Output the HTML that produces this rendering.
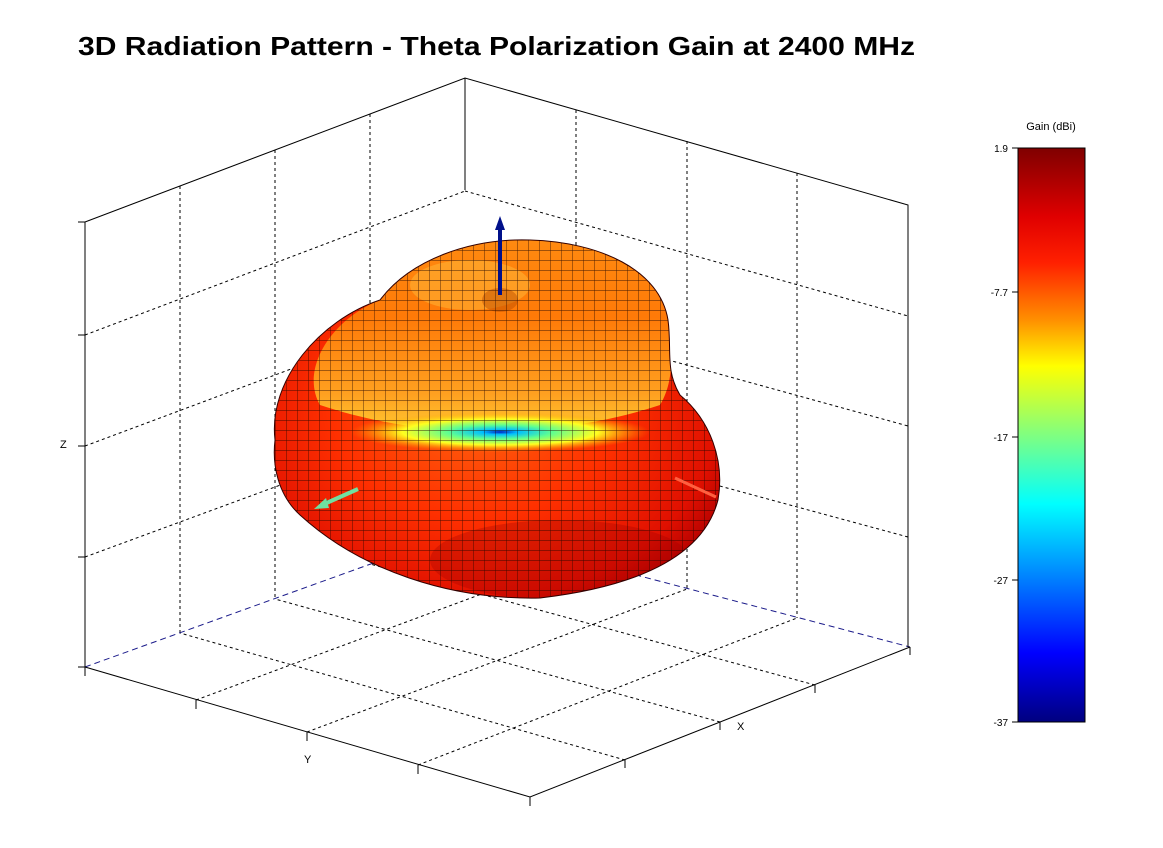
<!DOCTYPE html>
<html><head><meta charset="utf-8"><style>
html,body{margin:0;padding:0;background:#fff;}
svg{display:block;}
text{font-family:"Liberation Sans",sans-serif;}
</style></head><body>
<svg width="1163" height="848" viewBox="0 0 1163 848" xmlns="http://www.w3.org/2000/svg">
<defs>
<linearGradient id="cb" x1="0" y1="0" x2="0" y2="1">
<stop offset="0" stop-color="#7f0000"/>
<stop offset="0.12" stop-color="#e00000"/>
<stop offset="0.2" stop-color="#ff2000"/>
<stop offset="0.3" stop-color="#ff9000"/>
<stop offset="0.38" stop-color="#ffff00"/>
<stop offset="0.5" stop-color="#80ff80"/>
<stop offset="0.62" stop-color="#00ffff"/>
<stop offset="0.75" stop-color="#0080ff"/>
<stop offset="0.88" stop-color="#0000ff"/>
<stop offset="1" stop-color="#00007f"/>
</linearGradient>
<radialGradient id="body" cx="0.45" cy="0.45" r="0.65">
<stop offset="0" stop-color="#ff6a10"/>
<stop offset="0.5" stop-color="#ff3000"/>
<stop offset="0.85" stop-color="#e01000"/>
<stop offset="1" stop-color="#b00000"/>
</radialGradient>
<linearGradient id="top" x1="0" y1="0" x2="0" y2="1">
<stop offset="0" stop-color="#ff8a10"/>
<stop offset="0.4" stop-color="#ff7a08"/>
<stop offset="0.8" stop-color="#ffa020"/>
<stop offset="1" stop-color="#ffc830"/>
</linearGradient>
<radialGradient id="band" cx="0.5" cy="0.5" r="0.5">
<stop offset="0" stop-color="#0020c0"/>
<stop offset="0.12" stop-color="#00c0ff"/>
<stop offset="0.35" stop-color="#60ff90"/>
<stop offset="0.65" stop-color="#ffff20"/>
<stop offset="1" stop-color="#ffa000" stop-opacity="0"/>
</radialGradient>
<pattern id="mesh" width="11" height="10" patternUnits="userSpaceOnUse">
<path d="M0 0H11M0 0V10" stroke="#200500" stroke-width="0.9" fill="none" opacity="0.85"/>
</pattern>
<clipPath id="blobclip"><path id="blobp" d="M275 440 C268 380 320 320 380 300 C410 260 470 238 530 240 C600 242 660 270 668 320 C672 350 665 370 680 395 C710 420 725 460 718 500 C705 550 650 585 540 598 C450 600 360 570 300 515 C278 495 272 465 275 440 Z"/></clipPath>
</defs>

<text x="78" y="55" font-size="26" font-weight="bold" fill="#000" textLength="837" lengthAdjust="spacingAndGlyphs">3D Radiation Pattern - Theta Polarization Gain at 2400 MHz</text>

<g stroke="#000" stroke-width="1" stroke-dasharray="3,3" fill="none">
<path d="M85 335 L465 191 M85 446 L465 304 M85 557 L465 417"/>
<path d="M180 186 L180 633 M275 150 L275 599 M370 114 L370 564"/>
<path d="M465 191 L908 316 M465 304 L908 426 M465 417 L908 537"/>
<path d="M576 110 L576 559 M687 141 L687 589 M797 173 L797 618"/>
<path d="M196 700 L576 559 M307 732 L687 589 M418 765 L797 618"/>
<path d="M625 760 L180 633 M720 722 L275 599 M815 685 L370 564"/>
</g>
<g stroke="#1a1a8a" stroke-width="1" stroke-dasharray="6,4" fill="none">
<path d="M85 667 L465 530 L910 647"/>
</g>
<g stroke="#000" stroke-width="1" fill="none">
<path d="M85 222 L465 78 L908 205 L908 647 M85 222 L85 667 M465 78 L465 190"/>
<path d="M85 667 L530 797 L910 647"/>
<path d="M85 667 L85 676 M196 700 L196 709 M307 732 L307 741 M418 765 L418 774 M530 797 L530 806"/>
<path d="M625 760 L625 768 M720 722 L720 730 M815 685 L815 693 M910 647 L910 655"/>
<path d="M85 222 L78 222 M85 335 L78 335 M85 446 L78 446 M85 557 L78 557 M85 667 L78 667"/>
</g>
<text x="60" y="448" font-size="11">Z</text>
<text x="304" y="763" font-size="11">Y</text>
<text x="737" y="730" font-size="11">X</text>

<use href="#blobp" fill="url(#body)"/>
<g clip-path="url(#blobclip)">
<path d="M380 300 C410 260 470 238 530 240 C600 242 660 270 668 320 C672 350 675 380 660 405 C600 425 540 430 500 432 C440 432 380 425 320 405 C300 370 330 320 380 300Z" fill="url(#top)"/>
<ellipse cx="500" cy="432" rx="150" ry="20" fill="url(#band)"/>
<ellipse cx="470" cy="285" rx="60" ry="25" fill="#ffc040" opacity="0.45"/>
<ellipse cx="500" cy="300" rx="18" ry="12" fill="#c05000" opacity="0.5"/>
<ellipse cx="560" cy="560" rx="130" ry="40" fill="#a00000" opacity="0.3"/>
<rect x="260" y="230" width="480" height="380" fill="url(#mesh)"/>
</g>
<use href="#blobp" fill="none" stroke="#300" stroke-width="1"/>

<line x1="500" y1="295" x2="500" y2="228" stroke="#00108a" stroke-width="4"/>
<polygon points="500,216 495,230 505,230" fill="#00108a"/>
<line x1="358" y1="489" x2="322" y2="505" stroke="#70e0a0" stroke-width="4"/>
<polygon points="314,509 326,498 329,508" fill="#70e0a0"/>
<line x1="675" y1="478" x2="716" y2="497" stroke="#ff6040" stroke-width="3"/>

<rect x="1018" y="148" width="67" height="574" fill="url(#cb)" stroke="#000" stroke-width="1"/>
<text x="1051" y="130" font-size="11" text-anchor="middle">Gain (dBi)</text>
<g font-size="10" text-anchor="end">
<text x="1008" y="152">1.9</text>
<text x="1008" y="296">-7.7</text>
<text x="1008" y="441">-17</text>
<text x="1008" y="584">-27</text>
<text x="1008" y="726">-37</text>
</g>
<g stroke="#000"><path d="M1012 148H1018M1012 292H1018M1012 437H1018M1012 580H1018M1012 722H1018"/></g>
</svg>
</body></html>
